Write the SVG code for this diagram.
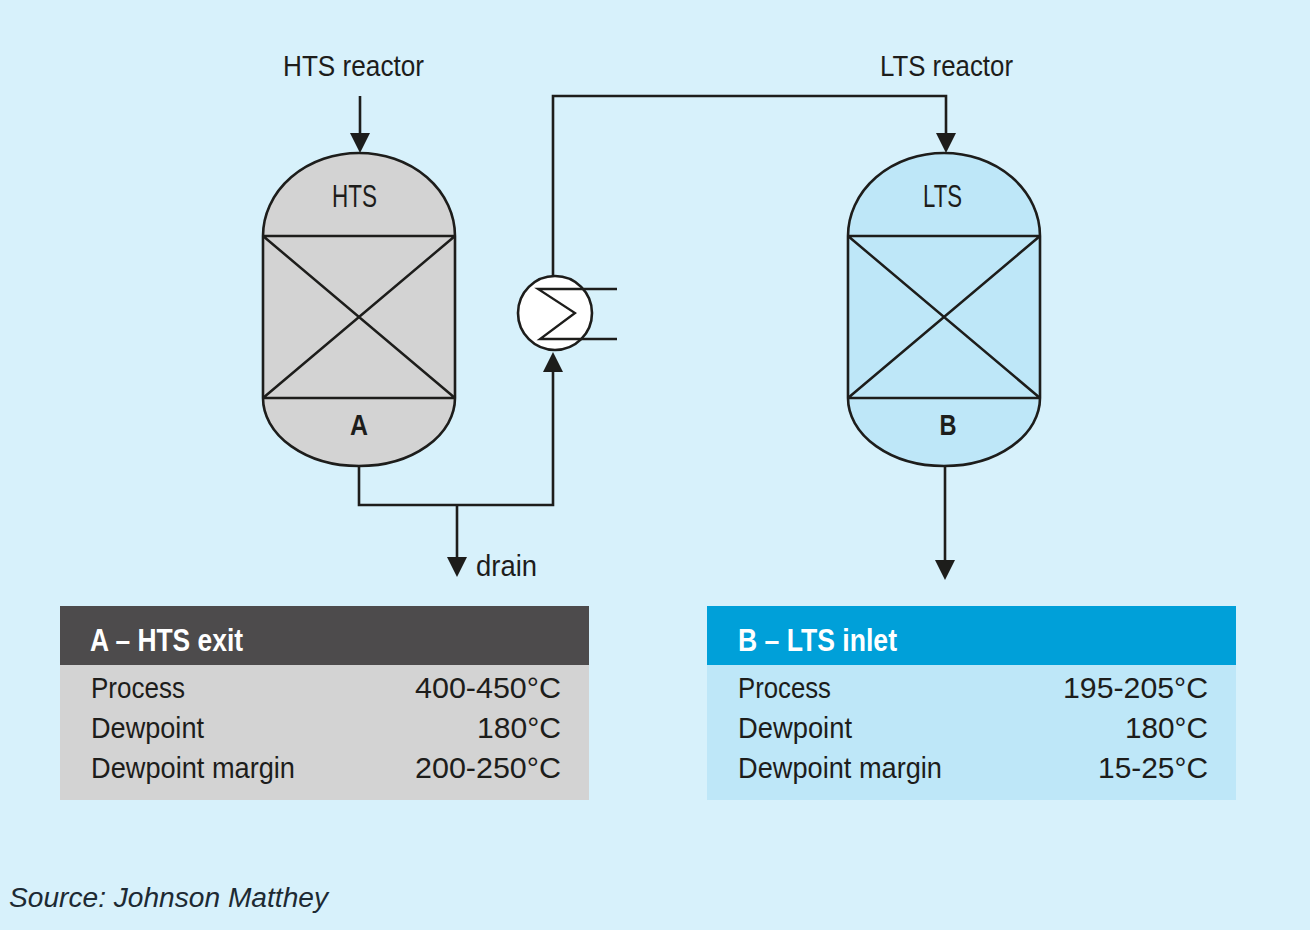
<svg xmlns="http://www.w3.org/2000/svg" width="1310" height="930" viewBox="0 0 1310 930">
<defs>
<style>
.pipe{fill:none;stroke:#1d1d1b;stroke-width:2.6}
.ves{stroke:#1d1d1b;stroke-width:2.6}
.inner{fill:none;stroke:#1d1d1b;stroke-width:2.5}
.t{font-family:"Liberation Sans Narrow","Liberation Sans",Arial,sans-serif;fill:#1d1d1b}
.b{font-family:"Liberation Sans Narrow","Liberation Sans",Arial,sans-serif;font-weight:bold}
.row{font-size:30px}
</style>
<marker id="arr" viewBox="0 0 20 20" refX="15" refY="10" markerWidth="20" markerHeight="20" markerUnits="userSpaceOnUse" orient="auto">
<path d="M0,0 L20,10 L0,20 Z" fill="#1d1d1b"/>
</marker>
</defs>
<rect width="1310" height="930" fill="#d7f1fb"/>

<g id="connectors">
<path class="pipe" d="M360,96 V148" marker-end="url(#arr)"/>
<path class="pipe" d="M359,466 V505 H553 V357" marker-end="url(#arr)"/>
<path class="pipe" d="M553,276 V96 H946 V148" marker-end="url(#arr)"/>
<path class="pipe" d="M457,505 V572" marker-end="url(#arr)"/>
<path class="pipe" d="M945,466 V575" marker-end="url(#arr)"/>
</g>

<g id="hts">
<path class="ves" fill="#d3d3d3" d="M263,236 V398 A96,68 0 0 0 455,398 V236 A96,83 0 0 0 263,236 Z"/>
<path class="inner" d="M263,236 H455 M263,398 H455 M263,236 L455,398 M455,236 L263,398"/>
<text class="t" x="354.5" y="207" font-size="31" text-anchor="middle" textLength="45" lengthAdjust="spacingAndGlyphs">HTS</text>
<text class="b" x="359" y="435" font-size="29" text-anchor="middle" fill="#1d1d1b" textLength="18" lengthAdjust="spacingAndGlyphs">A</text>
</g>

<g id="lts">
<path class="ves" fill="#bee7f8" d="M848,236 V398 A96,68 0 0 0 1040,398 V236 A96,83 0 0 0 848,236 Z"/>
<path class="inner" d="M848,236 H1040 M848,398 H1040 M848,236 L1040,398 M1040,236 L848,398"/>
<text class="t" x="942.5" y="207" font-size="31" text-anchor="middle" textLength="39" lengthAdjust="spacingAndGlyphs">LTS</text>
<text class="b" x="948" y="435" font-size="29" text-anchor="middle" fill="#1d1d1b" textLength="17" lengthAdjust="spacingAndGlyphs">B</text>
</g>

<g id="heat-exchanger">
<circle cx="555" cy="313" r="37" fill="#ffffff" stroke="#1d1d1b" stroke-width="2.6"/>
<polyline points="617,289 538,289 575,313 540,339 617,339" fill="none" stroke="#1d1d1b" stroke-width="2.3"/>
</g>

<g id="labels">
<text class="t" x="283" y="76" font-size="29" textLength="141" lengthAdjust="spacingAndGlyphs">HTS reactor</text>
<text class="t" x="880" y="76" font-size="29" textLength="133" lengthAdjust="spacingAndGlyphs">LTS reactor</text>
<text class="t" x="476" y="576" font-size="30" textLength="61" lengthAdjust="spacingAndGlyphs">drain</text>
</g>

<g id="table-a">
<rect x="60" y="606" width="529" height="59" fill="#4d4b4c"/>
<rect x="60" y="665" width="529" height="135" fill="#d3d3d3"/>
<text class="b" x="90" y="651" font-size="31" fill="#ffffff" textLength="153" lengthAdjust="spacingAndGlyphs">A – HTS exit</text>
<text class="t row" x="91" y="698" textLength="94" lengthAdjust="spacingAndGlyphs">Process</text>
<text class="t row" x="91" y="738" textLength="113" lengthAdjust="spacingAndGlyphs">Dewpoint</text>
<text class="t row" x="91" y="778" textLength="204" lengthAdjust="spacingAndGlyphs">Dewpoint margin</text>
<text class="t row" x="561" y="698" text-anchor="end" textLength="146" lengthAdjust="spacingAndGlyphs">400-450°C</text>
<text class="t row" x="561" y="738" text-anchor="end" textLength="84" lengthAdjust="spacingAndGlyphs">180°C</text>
<text class="t row" x="561" y="778" text-anchor="end" textLength="146" lengthAdjust="spacingAndGlyphs">200-250°C</text>
</g>

<g id="table-b">
<rect x="707" y="606" width="529" height="59" fill="#00a0d9"/>
<rect x="707" y="665" width="529" height="135" fill="#bee7f8"/>
<text class="b" x="738" y="651" font-size="31" fill="#ffffff" textLength="159" lengthAdjust="spacingAndGlyphs">B – LTS inlet</text>
<text class="t row" x="738" y="698" textLength="93" lengthAdjust="spacingAndGlyphs">Process</text>
<text class="t row" x="738" y="738" textLength="114" lengthAdjust="spacingAndGlyphs">Dewpoint</text>
<text class="t row" x="738" y="778" textLength="204" lengthAdjust="spacingAndGlyphs">Dewpoint margin</text>
<text class="t row" x="1208" y="698" text-anchor="end" textLength="145" lengthAdjust="spacingAndGlyphs">195-205°C</text>
<text class="t row" x="1208" y="738" text-anchor="end" textLength="83" lengthAdjust="spacingAndGlyphs">180°C</text>
<text class="t row" x="1208" y="778" text-anchor="end" textLength="110" lengthAdjust="spacingAndGlyphs">15-25°C</text>
</g>

<text x="9" y="907" font-family="'Liberation Sans',Arial,sans-serif" font-style="italic" font-size="27" fill="#1d2a33" textLength="319" lengthAdjust="spacingAndGlyphs">Source: Johnson Matthey</text>
</svg>
